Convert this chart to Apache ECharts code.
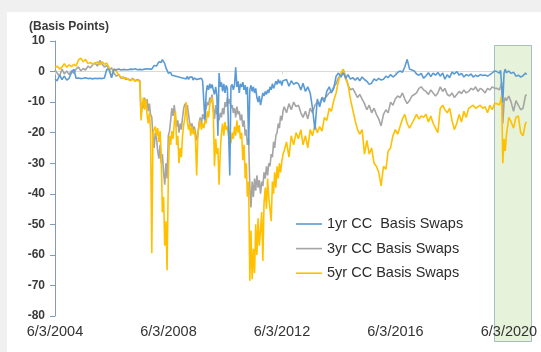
<!DOCTYPE html>
<html>
<head>
<meta charset="utf-8">
<script src="https://cdn.jsdelivr.net/npm/echarts@6/dist/echarts.min.js"></script>
<style>
  html, body { margin: 0; padding: 0; background: #f0f0f0; }
  #panel { position: absolute; left: 7px; top: 12px; width: 534px; height: 340px; background: #ffffff; }
  #chart { position: absolute; left: 0; top: 0; width: 541px; height: 352px; }
</style>
</head>
<body>
<div id="panel"></div>
<div id="chart"></div>
<script>
// Observation dates (one row per year)
const dates = [
  '2004-06-03','2004-07-01','2004-08-01','2004-09-01','2004-10-01','2004-11-01','2004-12-01',
  '2005-01-01','2005-02-01','2005-03-01','2005-04-01','2005-05-01','2005-06-01','2005-07-01','2005-08-01','2005-09-01','2005-10-01','2005-11-01','2005-12-01',
  '2006-01-01','2006-02-01','2006-03-01','2006-04-01','2006-05-01','2006-06-01','2006-07-01','2006-08-01','2006-09-01','2006-10-01','2006-11-01','2006-12-01',
  '2007-01-01','2007-02-01','2007-03-01','2007-04-01','2007-05-01','2007-06-01','2007-06-16','2007-07-01','2007-07-16','2007-08-01','2007-08-16','2007-09-01','2007-09-16','2007-10-01','2007-10-16','2007-11-01','2007-11-16','2007-12-01','2007-12-16',
  '2008-01-01','2008-01-16','2008-02-01','2008-02-16','2008-03-01','2008-03-16','2008-04-01','2008-04-16','2008-05-01','2008-05-16','2008-06-01','2008-06-16','2008-07-01','2008-07-16','2008-08-01','2008-08-16','2008-09-01','2008-09-16','2008-10-01','2008-10-16','2008-11-01','2008-11-16','2008-12-01','2008-12-16',
  '2009-01-01','2009-01-16','2009-02-01','2009-02-16','2009-03-01','2009-03-16','2009-04-01','2009-04-16','2009-05-01','2009-05-16','2009-06-01','2009-06-16','2009-07-01','2009-07-16','2009-08-01','2009-08-16','2009-09-01','2009-09-16','2009-10-01','2009-10-16','2009-11-01','2009-11-16','2009-12-01','2009-12-16',
  '2010-01-01','2010-01-16','2010-02-01','2010-02-16','2010-03-01','2010-03-16','2010-04-01','2010-04-16','2010-05-01','2010-05-16','2010-06-01','2010-06-16','2010-07-01','2010-07-16','2010-08-01','2010-08-16','2010-09-01','2010-09-16','2010-10-01','2010-10-16','2010-11-01','2010-11-16','2010-12-01','2010-12-16',
  '2011-01-01','2011-01-16','2011-02-01','2011-02-16','2011-03-01','2011-03-16','2011-04-01','2011-04-16','2011-05-01','2011-05-16','2011-06-01','2011-06-16','2011-07-01','2011-07-16','2011-08-01','2011-08-16','2011-09-01','2011-09-16','2011-10-01','2011-10-16','2011-11-01','2011-11-16','2011-12-01','2011-12-16',
  '2012-01-01','2012-01-16','2012-02-01','2012-02-16','2012-03-01','2012-03-16','2012-04-01','2012-04-16','2012-05-01','2012-05-16','2012-06-01','2012-06-16','2012-07-01','2012-08-01','2012-09-01','2012-10-01','2012-11-01','2012-12-01',
  '2013-01-01','2013-02-01','2013-03-01','2013-04-01','2013-05-01','2013-06-01','2013-07-01','2013-08-01','2013-09-01','2013-10-01','2013-11-01','2013-12-01',
  '2014-01-01','2014-02-01','2014-03-01','2014-04-01','2014-05-01','2014-06-01','2014-07-01','2014-08-01','2014-09-01','2014-10-01','2014-11-01','2014-12-01',
  '2015-01-01','2015-02-01','2015-03-01','2015-04-01','2015-05-01','2015-06-01','2015-07-01','2015-08-01','2015-09-01','2015-10-01','2015-11-01','2015-12-01',
  '2016-01-01','2016-02-01','2016-03-01','2016-04-01','2016-05-01','2016-06-01','2016-07-01','2016-08-01','2016-09-01','2016-10-01','2016-11-01','2016-12-01',
  '2017-01-01','2017-02-01','2017-03-01','2017-04-01','2017-05-01','2017-06-01','2017-07-01','2017-08-01','2017-09-01','2017-10-01','2017-11-01','2017-12-01',
  '2018-01-01','2018-02-01','2018-03-01','2018-04-01','2018-05-01','2018-06-01','2018-07-01','2018-08-01','2018-09-01','2018-10-01','2018-11-01','2018-12-01',
  '2019-01-01','2019-02-01','2019-03-01','2019-04-01','2019-05-01','2019-06-01','2019-07-01','2019-08-01','2019-09-01','2019-10-01','2019-11-01','2019-12-01',
  '2020-01-01','2020-02-01','2020-02-16','2020-03-01','2020-03-16','2020-04-01','2020-04-16','2020-05-01','2020-06-01','2020-07-01','2020-08-01','2020-09-01','2020-10-01','2020-11-01','2020-12-01','2021-01-01','2021-01-16'
];

// 1yr cross-currency basis swap, basis points
const oneYear = [
  -2.5, -3.0, -1.2, -2.6, -1.5, -2.8, -2.2,
  -0.3, 0.8, -2.2, -2.1, -2.3, -2.2, -2.0, -2.3, -2.2, -2.4, -2.2, -2.3,
  -2.2, -2.3, -2.1, 0.8, 0.6, -2.0, 0.7, 0.6, 0.8, 0.5, 0.7, 0.6,
  0.6, 0.8, 0.7, 0.9, 0.6, 0.7, 0.8, 0.6, 0.9, 0.8, 0.6, 0.9, 0.7, 0.8, 1.0, 0.8, 1.2, 2.0, 1.6,
  1.8, 2.5, 3.2, 3.6, 3.0, 3.9, 3.4, 2.6, 1.2, 0.4, -0.5, -0.8, -0.3, -1.2, -0.6, -1.4, -0.9, -1.6, -1.1, -1.8, -1.3, -2.0, -1.5, -2.2,
  -1.8, -2.4, -1.6, -2.6, -1.9, -2.3, -1.7, -2.8, -2.1, -1.8, -2.6, -2.0, -2.4, -2.9, -2.2, -3.0, -2.5, -16.0, -7.0, -4.5, -6.0, -4.0, -5.5, -4.2,
  -6.0, -7.5, -5.0, -8.0, -21.0, -0.5, -5.0, -3.5, -6.5, -4.0, -7.0, -4.5, -5.5, -6.0, -34.0, -5.0, -4.2, -6.0, -4.5, 1.4, -5.0, -3.2, -7.0, -4.0,
  -5.0, -3.5, -6.0, -4.5, -7.5, -5.0, -24.0, -6.0, -4.5, -6.5, -5.0, -7.0, -5.5, -8.5, -10.0, -8.0, -11.0, -9.0, -7.0, -8.0, -6.5, -7.5, -6.0, -7.0,
  -5.0, -6.0, -4.0, -5.5, -4.5, -3.2, -4.2, -2.6, -3.8, -3.0, -4.6, -3.0, -3.5, -2.6, -4.8, -3.0, -4.2, -3.6,
  -4.0, -6.0, -3.8, -6.5, -5.0, -7.0, -12.0, -19.0, -9.0, -11.5, -8.5, -10.0,
  -6.5, -5.0, -7.0, -5.5, -1.5, -0.5, -1.8, -0.4, -2.2, -1.0, -2.5, -2.0,
  -2.8, -2.0, -3.0, -1.8, -2.6, -3.2, -4.2, -3.8, -2.4, -3.0, -2.2, -2.8,
  -2.5, -1.5, -2.0, -1.0, -1.8, -1.2, -0.3, 0.2, -0.2, 1.5, 4.0, 0.8,
  0.5, 0.2, -0.8, -1.2, -0.6, -2.2, -1.4, -0.4, -1.6, -0.5, -1.2, -0.3,
  -1.5, -0.5, -2.5, -1.0, -2.0, -0.2, -0.8, 0.0, -1.2, -0.6, -1.8, -1.0,
  -1.4, -0.8, -1.8, -1.2, -1.6, -1.0, -1.3, -1.1, -1.5, -1.0, -0.4, 0.2,
  0.0, -0.5, 0.4, 0.6, -10.0, -0.5, 0.8, -0.4, 0.2, -0.6, -0.2, -1.5, -1.2, -1.8, -1.4, -0.5, -1.0
];

// 3yr cross-currency basis swap, basis points
const threeYear = [
  0.5, -0.5, -1.5, 0.8, -0.8, 0.2, -1.0,
  0.3, -0.6, 0.8, 1.5, 0.2, 1.0, 0.5, 1.8, 1.2, 2.2, 2.8, 1.8,
  3.6, 2.4, 1.5, 2.0, 0.6, 1.2, -0.5, -1.5, -1.0, -2.2, -1.8, -2.6,
  -2.4, -2.8, -2.2, -3.0, -2.6, -3.0, -14.5, -10.5, -12.0, -8.5, -11.5, -9.0, -13.0, -10.5, -14.0, -15.0, -21.0, -25.0, -20.0,
  -22.0, -26.0, -28.5, -24.0, -30.0, -27.0, -33.0, -37.0, -30.0, -35.0, -21.0, -19.5, -16.0, -12.0, -14.5, -11.0, -15.0, -18.0, -16.0, -20.0, -17.0, -19.0, -15.0, -12.0,
  -10.5, -12.0, -11.0, -14.0, -16.5, -18.0, -17.0, -19.0, -18.0, -20.0, -22.5, -21.0, -17.0, -15.0, -17.5, -14.0, -15.5, -13.0, -12.0, -10.0, -11.0, -8.5, -9.5, -7.5,
  -12.0, -15.5, -11.0, -14.0, -13.0, -16.0, -13.5, -15.0, -12.0, -14.0, -10.0, -11.5, -8.5, -10.5, -9.0, -12.0, -11.0, -13.5, -12.0, -15.0, -11.5, -14.0, -13.0, -16.0,
  -14.0, -18.0, -16.0, -21.0, -19.0, -24.0, -22.0, -38.0, -44.5, -36.0, -41.0, -35.0, -39.0, -34.0, -38.0, -35.5, -40.0, -36.0, -37.5, -33.0, -35.0, -31.0, -34.0, -30.0,
  -31.0, -27.0, -28.0, -23.0, -25.0, -21.0, -20.0, -17.0, -18.5, -14.5, -16.0, -13.0, -11.5, -13.5, -10.5, -12.5, -10.0, -11.5,
  -11.0, -13.5, -15.0, -13.0, -15.5, -12.0, -13.5, -11.0, -10.0, -10.5, -8.5, -9.0,
  -8.0, -7.0, -6.5, -5.0, -4.0, -2.0, -1.0, 0.6, -1.5, -4.5, -6.0, -5.5,
  -7.0, -8.5, -7.5, -9.0, -10.5, -12.5, -11.0, -13.5, -12.0, -14.0, -15.5, -17.8,
  -14.0, -12.5, -13.5, -10.0, -11.0, -9.0, -8.0, -8.5, -7.0, -9.0, -10.5, -9.5,
  -8.0, -7.5, -7.0, -5.5, -5.0, -6.0, -6.5, -7.5, -6.0, -7.0, -8.0, -7.0,
  -5.0, -6.5, -5.5, -7.5, -8.0, -7.0, -8.5, -7.5, -6.5, -7.2, -6.0, -7.0,
  -6.5, -5.5, -6.0, -5.0, -6.5, -5.5, -6.0, -7.0, -5.5, -6.0, -5.0, -5.5,
  -5.5, -6.0, -5.0, -3.6, -17.0, -10.0, -8.5, -9.5, -8.0, -10.0, -13.0, -9.5, -11.0, -12.5, -12.0, -8.0, -7.5
];

// 5yr cross-currency basis swap, basis points
const fiveYear = [
  1.2, 1.8, 0.8, 1.5, 2.6, 1.4, 2.2,
  1.6, 2.4, 1.8, 3.8, 4.4, 3.2, 4.0, 2.6, 3.0, 2.4, 2.8, 3.1,
  2.2, 3.2, 2.4, 2.8, 1.2, -1.8, 0.8, 0.2, -1.2, -1.8, -2.2, -2.0,
  -2.6, -3.0, -2.4, -3.2, -2.8, -3.4, -16.0, -11.0, -8.5, -12.5, -9.0, -14.0, -17.0, -13.5, -19.0, -59.5, -20.0, -20.5, -18.0,
  -21.0, -18.5, -23.0, -19.5, -27.0, -46.0, -41.0, -57.0, -49.0, -65.0, -34.0, -21.0, -24.0, -19.5, -22.0, -17.0, -13.0, -24.0, -21.0, -30.0, -25.0, -28.0, -21.0, -17.5,
  -15.0, -10.0, -16.5, -19.0, -17.0, -21.0, -18.0, -20.5, -19.0, -22.0, -34.0, -20.0, -18.0, -16.0, -19.0, -17.0, -18.5, -16.0, -17.0, -13.0, -15.0, -11.0, -9.5, -8.5,
  -14.0, -31.0, -22.0, -27.0, -25.0, -37.0, -26.0, -20.0, -17.0, -21.0, -16.5, -19.0, -18.0, -21.0, -19.5, -23.5, -20.0, -22.0, -18.0, -21.0, -16.0, -20.0, -17.5, -22.0,
  -20.0, -29.0, -24.0, -35.0, -30.0, -41.0, -36.0, -68.5, -52.0, -68.0, -58.0, -66.0, -50.0, -60.0, -48.0, -57.0, -52.0, -46.0, -62.0, -43.0, -38.0, -45.0, -35.0, -41.0,
  -41.0, -49.0, -36.0, -40.0, -33.0, -38.0, -31.0, -35.0, -30.0, -33.0, -29.5, -27.0, -26.0, -23.0, -28.0, -21.0, -24.0, -20.0,
  -22.0, -19.0, -24.0, -21.0, -25.0, -19.0, -21.0, -17.5, -20.0, -18.0, -19.5, -15.0,
  -16.0, -12.0, -13.0, -9.5, -7.0, -3.0, -0.5, 0.8, -2.5, -4.0, -9.0, -12.5,
  -16.0, -19.0, -20.5, -19.0, -27.0, -22.5, -27.0, -25.0, -30.0, -31.0, -33.0, -37.4,
  -31.0, -32.0, -26.0, -25.0, -21.0, -19.0, -20.5, -18.0, -15.5, -14.0, -17.0, -18.5,
  -17.0, -15.5, -14.0, -15.5, -14.5, -15.0, -14.0, -16.5, -14.5, -17.0, -18.5, -20.0,
  -12.0, -11.0, -12.5, -13.5, -12.0, -16.0, -19.0, -17.0, -14.0, -16.5, -13.0, -15.0,
  -12.0, -11.5, -11.0, -12.0, -11.5, -11.0, -12.0, -11.5, -13.5, -11.0, -12.5, -10.5,
  -10.5, -11.0, -9.5, -8.0, -30.0, -22.0, -26.0, -21.0, -15.0, -16.5, -18.5, -15.0, -14.5, -20.0, -21.0, -17.0, -16.5
];

const seriesNames = ['1yr CC  Basis Swaps', '3yr CC Basis Swaps', '5yr CC Basis Swaps'];
const seriesColors = ['#5B9BD5', '#A5A5A5', '#FFC000'];
const yTicks = { min: -80, max: 10, step: 10 };

const axisStart = '2004-06-03';
const axisEnd = '2021-03-01';
const labelStepDays = 1461;             // exactly four years between 6/3 anniversaries
const shadedFrom = '2019-11-20';
const shadedTo = '2021-03-13';
const shadedTop = 8.8;
const shadedBottom = -88;

const DAY = 86400000;
function toUTC(s) { const p = s.split('-').map(Number); return Date.UTC(p[0], p[1] - 1, p[2]); }
const base = toUTC(axisStart);
function dayOffset(s) { return Math.round((toUTC(s) - base) / DAY); }
function toPoints(vals) { return dates.map((d, i) => [dayOffset(d), vals[i]]); }
function dateLabel(v) {
  if (v % labelStepDays !== 0) return '';
  const dt = new Date(base + v * DAY);
  return (dt.getUTCMonth() + 1) + '/' + dt.getUTCDate() + '/' + dt.getUTCFullYear();
}

const chart = echarts.init(document.getElementById('chart'), null, { renderer: 'canvas' });
const xMax = dayOffset(axisEnd);

function lineSeries(name, vals, color) {
  return {
    name: name, type: 'line', data: toPoints(vals),
    symbol: 'none', showSymbol: false, animation: false,
    lineStyle: { width: 1.6, color: color }, itemStyle: { color: color },
    z: 2
  };
}

chart.setOption({
  animation: false,
  backgroundColor: 'transparent',
  title: {
    text: '(Basis Points)', left: 29, top: 21, padding: 0,
    textStyle: { fontFamily: 'Liberation Sans', fontSize: 12, fontWeight: 'bold', color: '#3a3a3a' }
  },
  legend: {
    orient: 'vertical', left: 296, top: 216, padding: 0,
    icon: 'rect', itemWidth: 26, itemHeight: 1.6, itemGap: 8.6,
    data: seriesNames,
    textStyle: { fontFamily: 'Liberation Sans', fontSize: 14.5, lineHeight: 16, color: '#2b2b2b' }
  },
  grid: { left: 55, right: 11, top: 41, bottom: 36, outerBoundsMode: 'none', containLabel: false },
  xAxis: [
    {
      type: 'value', min: 0, max: xMax, interval: labelStepDays, position: 'bottom', z: 5,
      axisLine: { show: false, onZero: false }, axisTick: { show: false }, splitLine: { show: false },
      axisLabel: {
        formatter: dateLabel, margin: 8, showMaxLabel: false, hideOverlap: false,
        fontFamily: 'Liberation Sans', fontSize: 14.5, color: '#333333'
      }
    },
    {
      type: 'value', min: 0, max: xMax, interval: labelStepDays, position: 'bottom',
      axisLine: { show: true, onZero: true, onZeroAxisIndex: 0, lineStyle: { color: '#d9d9d9', width: 1 } },
      axisTick: { show: true, length: 3, lineStyle: { color: '#d9d9d9' } },
      axisLabel: { show: false }, splitLine: { show: false }
    }
  ],
  yAxis: {
    type: 'value', min: yTicks.min, max: yTicks.max, interval: yTicks.step,
    axisLine: { show: true, lineStyle: { color: '#7f9cc0', width: 1 } },
    axisTick: { show: true, length: 5, lineStyle: { color: '#7f9cc0' } },
    splitLine: { show: false },
    axisLabel: { margin: 10, fontFamily: 'Liberation Sans', fontSize: 12, fontWeight: 'bold', color: '#3a3a3a' }
  },
  series: [
    lineSeries(seriesNames[1], threeYear, seriesColors[1]),
    lineSeries(seriesNames[2], fiveYear, seriesColors[2]),
    lineSeries(seriesNames[0], oneYear, seriesColors[0])
  ]
});

// Shaded recent-period box, placed through the chart's own scales
const p0 = chart.convertToPixel({ seriesIndex: 0 }, [dayOffset(shadedFrom), shadedTop]);
const p1 = chart.convertToPixel({ seriesIndex: 0 }, [dayOffset(shadedTo), shadedBottom]);
chart.setOption({
  graphic: [{
    type: 'rect', silent: true, z: 1,
    shape: { x: Math.round(p0[0]) + 0.5, y: Math.round(p0[1]) + 0.5, width: Math.round(p1[0] - p0[0]), height: Math.round(p1[1] - p0[1]) },
    style: { fill: '#e6f2d9', stroke: '#a6bec6', lineWidth: 1 }
  }]
});
</script>
</body>
</html>
